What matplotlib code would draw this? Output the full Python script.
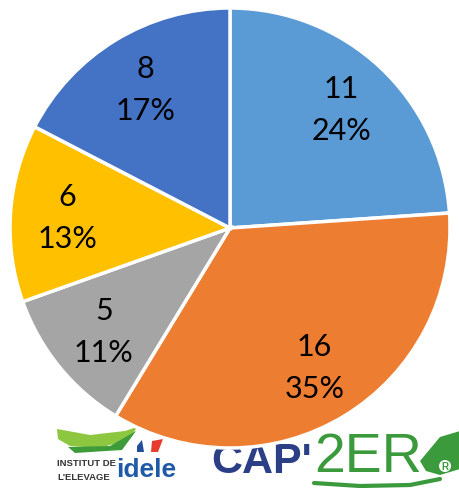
import matplotlib.pyplot as plt
from matplotlib.patches import Polygon, Ellipse

# Répartition (nombre d'exploitations par groupe)
valeurs = [11, 16, 5, 6, 8]
couleurs = ['#5B9BD5', '#ED7D31', '#A5A5A5', '#FFC000', '#4472C4']
total = sum(valeurs)

W, H = 460, 489
fig = plt.figure(figsize=(W / 100, H / 100), dpi=100)
plt.rcParams['font.family'] = ['Lato', 'DejaVu Sans']

# logos en bas de l'image (coordonnées en pixels depuis le haut), sous le camembert
ov = fig.add_axes([0, 0, 1, 1], facecolor='none')
ov.set_xlim(0, W)
ov.set_ylim(H, 0)
ov.axis('off')

# bandeau vert du logo idele
ov.add_patch(Polygon([(57, 430), (90, 436), (125, 432), (137, 428), (130, 440),
                      (100, 449), (70, 447), (58, 440)], closed=True,
                     color='#8DC63F', lw=0))
ov.add_patch(Polygon([(68, 448), (110, 447), (136, 432), (122, 451), (75, 454)],
                     closed=True, color='#3E9B3A', lw=0))
ov.add_patch(Polygon([(137, 447), (142, 441), (144, 453), (137, 453)], closed=True,
                     color='#1F4E9A', lw=0))
ov.add_patch(Polygon([(152, 442), (163, 440), (158, 453), (151, 453)], closed=True,
                     color='#E63B2E', lw=0))
ov.text(57, 464, "INSTITUT DE", fontsize=6.8, fontweight='bold', color='#333333',
        va='center', ha='left', family='Liberation Sans')
ov.text(57, 477, "L'ELEVAGE", fontsize=6.8, fontweight='bold', color='#333333',
        va='center', ha='left', family='Liberation Sans')
ov.text(116, 470, "idele", fontsize=19, fontweight='bold', color='#1F5AA6',
        va='center', ha='left', family='Liberation Sans')

# logo CAP'2ER
ov.text(211, 462, "CAP'", fontsize=31, fontweight='bold', color='#2B3F87',
        va='center', ha='left', family='Liberation Sans')
ov.text(314, 458, "2ER", fontsize=40, color='#3A9A3C', va='center', ha='left',
        family='Liberation Sans')
ov.add_patch(Polygon([(420, 462), (440, 438), (460, 432), (460, 470), (440, 476),
                      (426, 472)], closed=True, color='#3A9A3C', lw=0))
ov.add_patch(Ellipse((445, 467), 12, 12, color='white', lw=0))
ov.text(445, 467, "R", fontsize=7, fontweight='bold', color='#3A9A3C',
        va='center', ha='center', family='Liberation Sans')
ov.plot([314, 360, 410, 440], [484, 487, 486, 480], color='#3A9A3C', lw=3,
        solid_capstyle='round')

# axe carré : centre (230, 229) px, rayon 220 px
cx, cy, r = 230, 229, 220
ax = fig.add_axes([(cx - r) / W, (H - cy - r) / H, 2 * r / W, 2 * r / H])


def etiquette(pct):
    n = int(round(pct * total / 100))
    return f"{n}\n{pct:.0f}%"


wedges, texts, autotexts = ax.pie(
    valeurs, colors=couleurs, startangle=90, counterclock=False,
    autopct=etiquette, pctdistance=0.74,
    wedgeprops=dict(edgecolor='white', linewidth=2.5),
    textprops=dict(fontsize=22, color='black', linespacing=1.6))
ax.set_xlim(-1, 1)
ax.set_ylim(-1, 1)
ax.axis('off')

fig.savefig('out.png', dpi=100, facecolor='white')
